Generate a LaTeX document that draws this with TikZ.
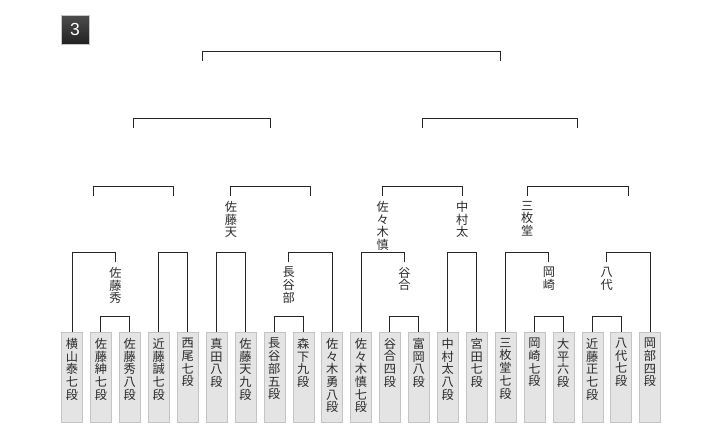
\documentclass[tikz,border=0pt]{standalone}
\usepackage{fontspec}
\newfontfamily\jp{Noto Sans CJK JP}
\newfontfamily\numfont{Liberation Sans}
\usetikzlibrary{positioning,calc}
\definecolor{boxgray}{HTML}{E4E4E4}
\definecolor{boxedge}{HTML}{C4C4C4}
\definecolor{linedark}{HTML}{262626}
\definecolor{inkgray}{HTML}{2A2A2A}

% vertical (one character per line) text
\makeatletter
\def\tate#1{\edef\tate@s{#1}\expandafter\tate@a\tate@s\@nil}
\def\tate@a#1#2\@nil{#1\ifx\relax#2\relax\else\\\tate@a#2\@nil\fi}
\makeatother

\tikzset{
  pbox/.style={draw=boxedge, fill=boxgray, minimum width=21pt, minimum height=89.5pt, inner sep=0pt, anchor=north},
  pname/.style={font=\jp\fontsize{12.2}{12.7}\selectfont, align=center, inner sep=0pt, text=inkgray},
  wname/.style={pname, inner xsep=0pt, inner ysep=5pt, anchor=north},
  bline/.style={draw=linedark, line width=1pt},
  numbox/.style={minimum width=28pt, minimum height=29pt, inner sep=0pt, draw=gray!45, top color=black!70, bottom color=black!87, text=white, font=\numfont\fontsize{17.5}{17.5}\selectfont}
}

% one bracket: left end, right end, height of the bar, name of its middle
\newcommand{\match}[4]{%
  \draw[bline] (#1) -- (#1 |- 0,#3) -- (#2 |- 0,#3) -- (#2);
  \coordinate (#4) at ($(#1 |- 0,#3)!0.5!(#2 |- 0,#3)$);}

\begin{document}
\begin{tikzpicture}[x=1pt, y=-1pt]
  \useasboundingbox (0,0) rectangle (720,437);

  % round number
  \node[numbox] (rnd) at (75,29.5) {3};

  % players
  \foreach \i/\nm in {
    1/横山泰七段, 2/佐藤紳七段, 3/佐藤秀八段, 4/近藤誠七段, 5/西尾七段,
    6/真田八段, 7/佐藤天九段, 8/長谷部五段, 9/森下九段, 10/佐々木勇八段,
    11/佐々木慎七段, 12/谷合四段, 13/富岡八段, 14/中村太八段, 15/宮田七段,
    16/三枚堂七段, 17/岡崎七段, 18/大平六段, 19/近藤正七段, 20/八代七段,
    21/岡部四段} {
    \pgfmathsetmacro{\px}{72+28.9*(\i-1)}
    \node[pbox] (p\i) at (\px,332) {};
    \node[pname, below=6pt of p\i.north] (n\i) {\tate{\nm}};
  }

  % first round
  \match{p2.north}{p3.north}{316}{m1}
  \match{p8.north}{p9.north}{316}{m2}
  \match{p12.north}{p13.north}{316}{m3}
  \match{p17.north}{p18.north}{316}{m4}
  \match{p19.north}{p20.north}{316}{m5}
  \node[wname] (w1) at (m1 |- 0,262) {\tate{佐藤秀}};
  \node[wname] (w2) at (m2 |- 0,262) {\tate{長谷部}};
  \node[wname] (w3) at (m3 |- 0,262) {\tate{谷合}};
  \node[wname] (w4) at (m4 |- 0,262) {\tate{岡崎}};
  \node[wname] (w5) at (m5 |- 0,262) {\tate{八代}};

  % second round
  \match{p1.north}{w1.north}{252}{r1}
  \match{p4.north}{p5.north}{252}{r2}
  \match{p6.north}{p7.north}{252}{r3}
  \match{w2.north}{p10.north}{252}{r4}
  \match{p11.north}{w3.north}{252}{r5}
  \match{p14.north}{p15.north}{252}{r6}
  \match{p16.north}{w4.north}{252}{r7}
  \match{w5.north}{p21.north}{252}{r8}
  \coordinate (v1) at (r1 |- 0,196);
  \coordinate (v2) at (r2 |- 0,196);
  \node[wname] (v3) at (r3 |- 0,196) {\tate{佐藤天}};
  \coordinate (v4) at (r4 |- 0,196);
  \node[wname] (v5) at (r5 |- 0,196) {\tate{佐々木慎}};
  \node[wname] (v6) at (r6 |- 0,196) {\tate{中村太}};
  \node[wname] (v7) at (r7 |- 0,196) {\tate{三枚堂}};
  \coordinate (v8) at (r8 |- 0,196);

  % third round
  \match{v1}{v2}{186}{q1}
  \match{v3.north}{v4}{186}{q2}
  \match{v5.north}{v6.north}{186}{q3}
  \match{v7.north}{v8}{186}{q4}
  \foreach \k in {1,...,4} {\coordinate (u\k) at (q\k |- 0,128);}

  % semi-finals and final
  \match{u1}{u2}{118}{s1}
  \match{u3}{u4}{118}{s2}
  \coordinate (t1) at (s1 |- 0,61);
  \coordinate (t2) at (s2 |- 0,61);
  \match{t1}{t2}{51}{fin}
\end{tikzpicture}
\end{document}
